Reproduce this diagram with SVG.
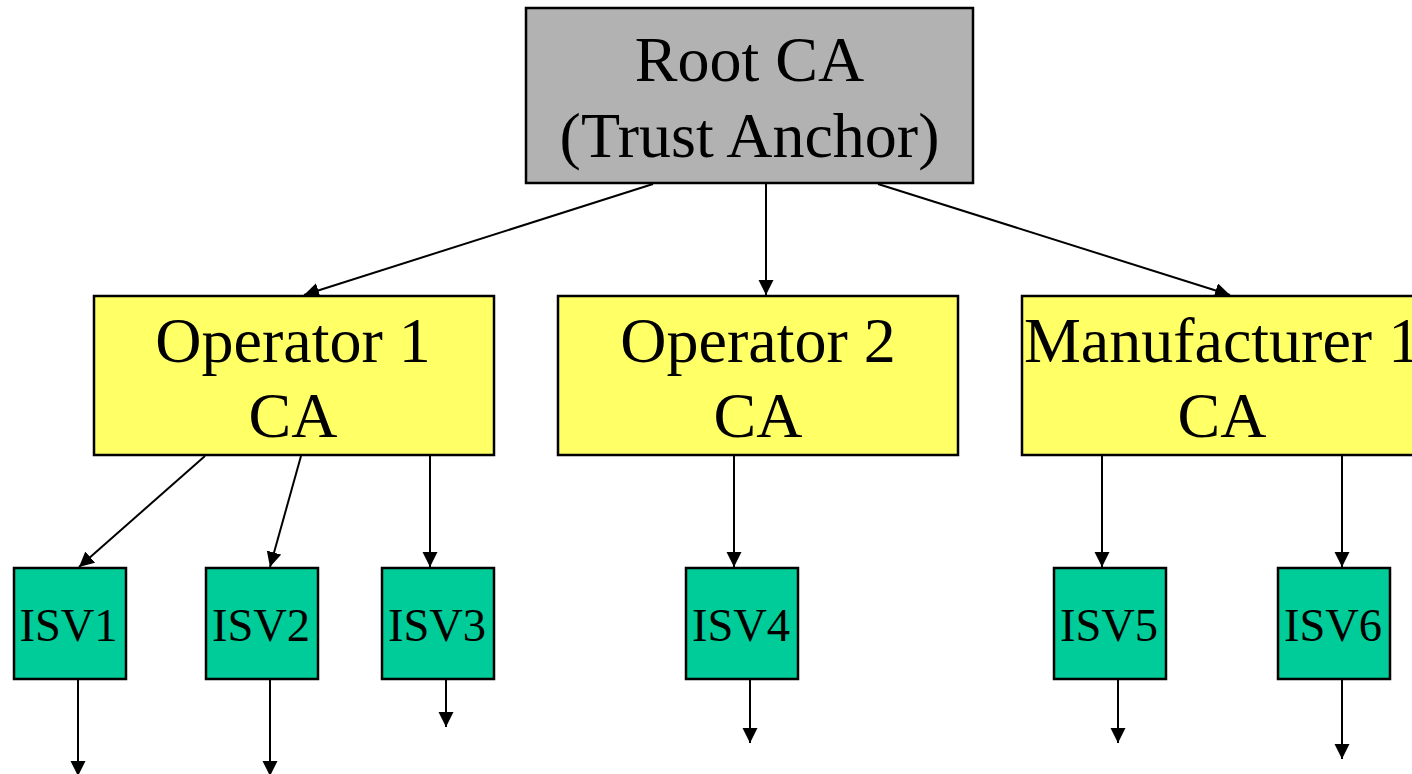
<svg xmlns="http://www.w3.org/2000/svg" width="1412" height="774" viewBox="0 0 1412 774">
<style>
.box{stroke:#000;stroke-width:2.5}
.root{fill:#b2b2b2}
.ca{fill:#ffff66}
.isv{fill:#00cc99}
.big{font-family:"Liberation Serif","Times New Roman",serif;font-size:64px;fill:#000;text-anchor:middle}
.small{font-family:"Liberation Serif","Times New Roman",serif;font-size:46.5px;fill:#000;text-anchor:middle}
.conn{stroke:#000;stroke-width:2;fill:none;marker-end:url(#ah)}
</style>
<defs>
<marker id="ah" markerUnits="userSpaceOnUse" markerWidth="16" markerHeight="16" refX="15" refY="7.5" orient="auto">
<path d="M0,0 L15,7.5 L0,15 z" fill="#000"/>
</marker>
</defs>
<rect width="1412" height="774" fill="#fff"/>
<g id="connectors">
<line class="conn" x1="653" y1="184" x2="304" y2="295"/>
<line class="conn" x1="766" y1="184" x2="766" y2="295"/>
<line class="conn" x1="878" y1="184" x2="1230" y2="295"/>
<line class="conn" x1="205" y1="456" x2="79" y2="567"/>
<line class="conn" x1="301" y1="456" x2="270" y2="567"/>
<line class="conn" x1="430" y1="456" x2="430" y2="567"/>
<line class="conn" x1="734" y1="456" x2="734" y2="567"/>
<line class="conn" x1="1102" y1="456" x2="1102" y2="567"/>
<line class="conn" x1="1342" y1="456" x2="1342" y2="567"/>
<line class="conn" x1="78" y1="680" x2="78" y2="776"/>
<line class="conn" x1="270" y1="680" x2="270" y2="776"/>
<line class="conn" x1="446" y1="680" x2="446" y2="727"/>
<line class="conn" x1="750" y1="680" x2="750" y2="743"/>
<line class="conn" x1="1118" y1="680" x2="1118" y2="743"/>
<line class="conn" x1="1342" y1="680" x2="1342" y2="759"/>
</g>
<g id="root">
<rect class="box root" x="526" y="8" width="447" height="175"/>
<text class="big" x="749.5" y="81">Root CA</text>
<text class="big" x="749.5" y="157">(Trust Anchor)</text>
</g>
<g id="op1">
<rect class="box ca" x="94" y="296" width="400" height="159"/>
<text class="big" x="293" y="362">Operator 1</text>
<text class="big" x="293" y="437">CA</text>
</g>
<g id="op2">
<rect class="box ca" x="558" y="296" width="400" height="159"/>
<text class="big" x="758" y="362">Operator 2</text>
<text class="big" x="758" y="437">CA</text>
</g>
<g id="man1">
<rect class="box ca" x="1022" y="296" width="400" height="159"/>
<text class="big" x="1222" y="362">Manufacturer 1</text>
<text class="big" x="1222" y="437">CA</text>
</g>
<g id="isv1">
<rect class="box isv" x="14" y="568" width="112" height="111"/>
<text class="small" x="68.5" y="641">ISV1</text>
</g>
<g id="isv2">
<rect class="box isv" x="206" y="568" width="112" height="111"/>
<text class="small" x="261" y="641">ISV2</text>
</g>
<g id="isv3">
<rect class="box isv" x="382" y="568" width="112" height="111"/>
<text class="small" x="437" y="641">ISV3</text>
</g>
<g id="isv4">
<rect class="box isv" x="686" y="568" width="112" height="111"/>
<text class="small" x="741" y="641">ISV4</text>
</g>
<g id="isv5">
<rect class="box isv" x="1054" y="568" width="112" height="111"/>
<text class="small" x="1109" y="641">ISV5</text>
</g>
<g id="isv6">
<rect class="box isv" x="1278" y="568" width="112" height="111"/>
<text class="small" x="1333" y="641">ISV6</text>
</g>
</svg>
